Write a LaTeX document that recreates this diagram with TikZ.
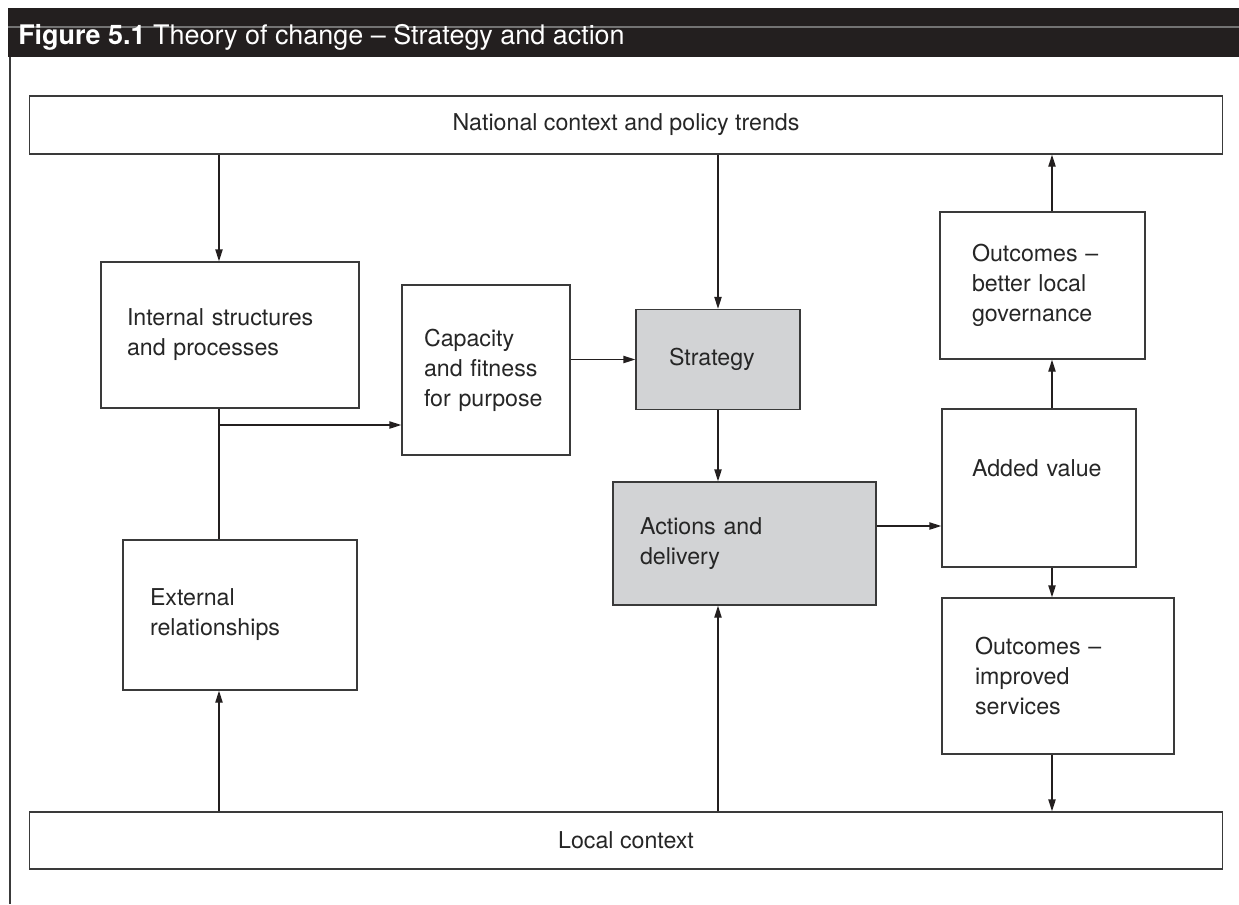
\documentclass[tikz,border=0pt]{standalone}
\usepackage{fontspec}
\setmainfont{TeX Gyre Heros}
\usepackage{xcolor}
\usetikzlibrary{arrows.meta}
\definecolor{tchead}{HTML}{231F1F}
\definecolor{tcline}{HTML}{3A3A3A}
\definecolor{tcgrey}{HTML}{D2D3D5}
\newcommand{\tcfont}{\fontsize{17.4}{22.5}\selectfont}
\tikzset{
  tcbox/.style={draw=tcline, line width=1.1pt, align=left, font=\tcfont, inner ysep=0pt, text=black!85},
  tcshade/.style={tcbox, fill=tcgrey},
  tcwide/.style={tcbox, align=center, minimum width=895pt},
  tcarrow/.style={draw=tchead, line width=1.1pt, -{Triangle[length=9pt,width=5.5pt]}},
  tcjoin/.style={draw=tchead, line width=1.1pt},
}
\begin{document}
\begin{tikzpicture}[x=0.75pt,y=-0.75pt]
\useasboundingbox (0,0) rectangle (1239,904);
% heading bar
\fill[tchead] (8,8) rectangle (1239,57);
\draw[black!55, line width=0.8pt] (8,27) -- (1239,27);
\node[anchor=base west, text=white, inner sep=0pt, font=\fontsize{20.2}{24}\selectfont] (title) at (18,44)
  {\textbf{Figure 5.1} Theory of change -- Strategy and action};
\draw[tcline, line width=1.2pt] (10,57) -- (10,904);
% boxes
\node[tcwide, minimum height=43.5pt] (national) at (626,125) {National context and policy trends};
\node[tcwide, minimum height=42.75pt] (local) at (626,840.5) {Local context};
\node[tcbox, inner xsep=19.5pt, text width=154.5pt, minimum height=109.5pt] (internal) at (230,335)
  {Internal structures\\and processes};
\node[tcbox, inner xsep=20.25pt, text width=135pt, minimum height=112.5pt] (external) at (240,615)
  {External\\relationships};
\node[tcbox, inner xsep=16.5pt, text width=93pt, minimum height=127.5pt] (capacity) at (486,370)
  {Capacity\\and fitness\\for purpose};
\node[tcshade, inner xsep=24.75pt, text width=73.5pt, minimum height=75pt] (strategy) at (718,359.5)
  {Strategy};
\node[tcshade, inner xsep=20.25pt, text width=156.75pt, minimum height=92.25pt] (actions) at (744.5,543.5)
  {Actions and\\delivery};
\node[tcbox, inner xsep=22.5pt, text width=100.5pt, minimum height=118.5pt, text depth=30pt] (added) at (1039,488)
  {Added value};
\node[tcbox, inner xsep=24pt, text width=105.75pt, minimum height=110.25pt] (better) at (1042.5,285.5)
  {Outcomes --\\better local\\governance};
\node[tcbox, inner xsep=24.75pt, text width=124.5pt, minimum height=117pt] (improved) at (1058,676)
  {Outcomes --\\improved\\services};
% connector columns
\coordinate (leftcol) at (219,0);
\coordinate (rightcol) at (1052,0);
\coordinate (branch) at (219,425);
\coordinate (outrow) at (0,526);
% arrows
\draw[tcarrow] (leftcol |- national.south) -- (leftcol |- internal.north);
\draw[tcjoin] (leftcol |- internal.south) -- (leftcol |- external.north);
\draw[tcarrow] (branch) -- (branch -| capacity.west);
\draw[tcarrow] (leftcol |- local.north) -- (leftcol |- external.south);
\draw[tcarrow] (capacity.east |- strategy.west) -- (strategy.west);
\draw[tcarrow] (strategy.north |- national.south) -- (strategy.north);
\draw[tcarrow] (strategy.south) -- (strategy.south |- actions.north);
\draw[tcarrow] (strategy.south |- local.north) -- (strategy.south |- actions.south);
\draw[tcarrow] (actions.east |- outrow) -- (added.west |- outrow);
\draw[tcarrow] (rightcol |- added.north) -- (rightcol |- better.south);
\draw[tcarrow] (rightcol |- better.north) -- (rightcol |- national.south);
\draw[tcarrow] (rightcol |- added.south) -- (rightcol |- improved.north);
\draw[tcarrow] (rightcol |- improved.south) -- (rightcol |- local.north);
\end{tikzpicture}
\end{document}
